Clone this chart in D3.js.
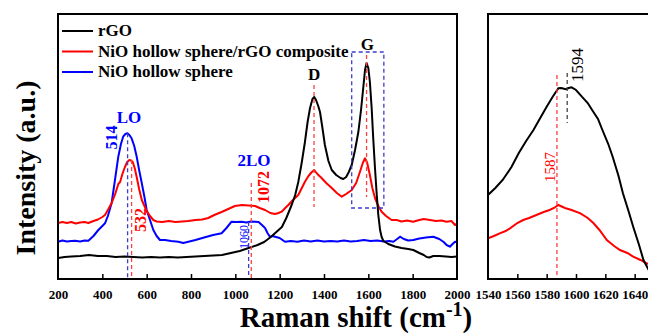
<!DOCTYPE html>
<html>
<head>
<meta charset="utf-8">
<script src="https://cdn.jsdelivr.net/npm/d3@7"></script>
<style>
  body { margin: 0; background: #fff; }
</style>
</head>
<body>
<div id="chart"></div>
<script>
// Raman spectra, intensity in arbitrary units (0 = bottom of the frame)
const rgoShift = [200,230,260,300,340,380,420,460,500,540,580,620,660,700,740,780,820,860,900,940,980,1020,1060,1100,1130,1160,1190,1210,1230,1254,1270,1284,1300,1314,1326,1337,1348,1356,1364,1374,1382,1393,1404,1420,1435,1455,1475,1487,1500,1512,1525,1540,1555,1567,1577,1585,1592,1600,1607,1615,1622,1630,1638,1645,1653,1660,1668,1690,1720,1750,1780,1803,1830,1850,1863,1875,1893,1920,1950,1975,2000];
const rgoValue = [21,22,22.5,23,24,23,23,22,22.5,22,21.5,22,21.5,22,21.5,22,22.5,23,23.5,24,26,28,31,34,37,42,48,52,61,74,84,97,117,137,157,171,180,182,179,173,167,151,134,118,109,104,101,100,102,107,114,129,147,169,191,209,216,211,197,171,141,111,84,64,49,42,38,35,32.5,31,30,29,26,24,22,21.5,23,23,22.5,22,22.5];

const compShift = [200,220,240,260,280,300,320,337,360,380,400,412,425,442,458,472,480,492,502,512,522,530,537,546,555,566,578,590,600,615,630,645,670,700,730,760,788,820,850,878,905,938,968,998,1030,1060,1089,1110,1134,1158,1179,1195,1209,1225,1239,1260,1284,1300,1314,1330,1345,1356,1370,1389,1410,1435,1458,1480,1500,1525,1545,1562,1575,1585,1595,1607,1618,1630,1645,1660,1680,1705,1728,1750,1775,1802,1830,1850,1878,1905,1930,1953,1975,1991,2000];
const compValue = [56,57,56,57,55.5,56.5,57,56,58,59.5,62,64,69,76,85,95,97,106,112,117,119,118.5,117,111,102,90,79,73,68,63,59,57.5,57,58,57,57.5,58,59,59.5,61,64,67,70,73,74,73.5,73,71,69,66,65,66,67.3,71,74,79,84,91,97.3,103,107,109,105,101,96,91,86,82.3,85,89,96,107,116,120.7,116,104,91,81,73,67.3,63,59,59,57.5,58.5,57.3,59,60,59,58,58.5,57.3,58,54,55];

const nioShift = [200,220,240,260,277,300,320,337,360,382,400,412,425,442,457,472,484,494,504,513,522,532,544,555,566,578,590,600,615,630,645,660,683,710,743,765,788,820,863,900,938,960,983,1005,1028,1050,1070,1089,1105,1120,1134,1145,1156,1168,1179,1200,1224,1250,1280,1310,1340,1370,1400,1430,1460,1490,1520,1550,1580,1610,1640,1670,1695,1713,1730,1743,1760,1780,1803,1830,1860,1893,1920,1940,1953,1968,1980,1991,2000];
const nioValue = [37.3,38.5,37.5,38,38.3,37.5,38.5,38.3,43,49,53,55.7,63,76,99,122.3,135,142.3,145,145.7,144,140.7,133,122.3,109,95.7,82,69,59,49,43,39,39,38,37.3,36,37.3,39,41.7,44,45.7,51,57.3,57,57.3,56.5,57.5,57.3,57,54,51,46,42.3,43,42.3,41,37.3,38,37.3,38.5,37.5,38.5,37.5,38,37.5,38.5,37.5,38,39,38,38.5,37.5,38,37.3,40,42.3,40,38.5,39,40.5,41.5,42.3,40,37,34,32.3,35,37.3,37];

// enlarged G band (right panel)
const zoomRgoShift = [1540,1545,1550,1556,1561,1566,1571,1576,1580,1584,1588,1590,1593,1595,1597,1600,1604,1608,1611,1615,1618,1622,1625,1629,1632,1636,1639,1643,1646,1652,1656];
const zoomRgoValue = [84,91,99,112,126,138,149,162,172.3,182,190.7,191,189.7,191,191.7,189,182.3,176,169,160,149,135,122.3,103,85.7,67,52.3,34,19,2.3,-6];
const zoomCompShift = [1540,1544,1548,1552,1555,1560,1564,1568,1573,1578,1582,1585,1588,1591,1593,1597,1603,1608,1612,1616,1621,1626,1630,1635,1639,1644,1648,1655];
const zoomCompValue = [40.7,43,45.7,48,50.7,56,59,61,64,67,69,71,74,72,70.7,69,65.7,61,55.7,49,39,33,29,26,22.3,19,15.7,13];

const seriesNames = ["rGO", "NiO hollow sphere/rGO composite", "NiO hollow sphere"];
const seriesColors = ["#000000", "#ff0000", "#0000ff"];

const mainTicks = [200, 400, 600, 800, 1000, 1200, 1400, 1600, 1800, 2000];
const zoomTicks = [1540, 1560, 1580, 1600, 1620, 1640];

const FONT = '"Liberation Serif", "Times New Roman", Times, "DejaVu Serif", serif';

const width = 648, height = 333;
const main = { left: 58, right: 457, top: 14, bottom: 279 };
const side = { left: 488, right: 664, top: 14, bottom: 279 };

const zipData = (xs, ys) => xs.map((x, i) => ({ x: x, y: ys[i] }));

const svg = d3
  .select("#chart")
  .append("svg")
  .attr("width", width)
  .attr("height", height)
  .attr("font-family", FONT);

const xMain = d3.scaleLinear().domain([200, 2000]).range([main.left, main.right]);
const yMain = d3.scaleLinear().domain([0, 265]).range([main.bottom, main.top]);
const xSide = d3.scaleLinear().domain([1540, 1660]).range([side.left, side.right]);
const ySide = d3.scaleLinear().domain([0, 265]).range([side.bottom, side.top]);

svg.append("clipPath").attr("id", "clipMain")
  .append("rect")
  .attr("x", main.left).attr("y", main.top)
  .attr("width", main.right - main.left).attr("height", main.bottom - main.top);
svg.append("clipPath").attr("id", "clipSide")
  .append("rect")
  .attr("x", side.left).attr("y", side.top)
  .attr("width", side.right - side.left).attr("height", side.bottom - side.top);

function dashLine(g, x, y0, y1, color) {
  g.append("line")
    .attr("x1", x).attr("x2", x)
    .attr("y1", y0).attr("y2", y1)
    .attr("stroke", color)
    .attr("stroke-width", 1.3)
    .attr("stroke-dasharray", "4,3");
}

function label(g, txt, x, y, color, size, weight, rotate) {
  const t = g.append("text")
    .attr("fill", color)
    .style("font-family", FONT)
    .style("font-size", size + "px")
    .style("font-weight", weight)
    .attr("text-anchor", "middle")
    .text(txt);
  if (rotate) {
    t.attr("dominant-baseline", "central")
      .attr("transform", `translate(${x},${y}) rotate(-90)`);
  } else {
    t.attr("x", x).attr("y", y);
  }
}

// ---------- main panel ----------
const mainPlot = svg.append("g").attr("clip-path", "url(#clipMain)");
const mainLine = d3.line().x((d) => xMain(d.x)).y((d) => yMain(d.y));

const mainSeries = [
  zipData(rgoShift, rgoValue),
  zipData(compShift, compValue),
  zipData(nioShift, nioValue),
];

// annotation dashes under the curves
const ann = svg.append("g");
dashLine(ann, xMain(514), yMain(145.7), main.bottom, "#3c3ccf");
dashLine(ann, xMain(532), yMain(119), main.bottom, "#ff4040");
dashLine(ann, xMain(1060), yMain(57), main.bottom, "#3c3ccf");
dashLine(ann, xMain(1072), yMain(96), main.bottom, "#ff4040");
dashLine(ann, xMain(1355), yMain(194), yMain(72), "#ff4040");
dashLine(ann, xMain(1592), yMain(224), yMain(82), "#ff4040");

// G band box
const gBox = { x0: 1525, x1: 1670, y0: 71, y1: 227 };
ann.append("rect")
  .attr("x", xMain(gBox.x0))
  .attr("y", yMain(gBox.y1))
  .attr("width", xMain(gBox.x1) - xMain(gBox.x0))
  .attr("height", yMain(gBox.y0) - yMain(gBox.y1))
  .attr("fill", "none")
  .attr("stroke", "#3c3ccf")
  .attr("stroke-width", 1.3)
  .attr("stroke-dasharray", "4,3");

[2, 1, 0].forEach(function (i) {
  mainPlot.append("path")
    .datum(mainSeries[i])
    .attr("d", mainLine)
    .attr("fill", "none")
    .attr("stroke", seriesColors[i])
    .attr("stroke-width", 2)
    .attr("stroke-linejoin", "round");
});

// frame + inward ticks
svg.append("rect")
  .attr("x", main.left).attr("y", main.top)
  .attr("width", main.right - main.left).attr("height", main.bottom - main.top)
  .attr("fill", "none").attr("stroke", "#000").attr("stroke-width", 2);

function styleAxis(axisG, skip) {
  axisG.attr("font-family", FONT);
  axisG.select(".domain").remove();
  axisG.selectAll(".tick line").attr("stroke-width", 1.5);
  axisG.selectAll(".tick")
    .filter((d) => skip.includes(d))
    .select("line").remove();
  axisG.selectAll("text")
    .style("font-family", FONT)
    .style("font-size", "13px")
    .style("font-weight", "bold")
    .attr("fill", "#000");
}

const mainAxis = svg.append("g")
  .attr("transform", `translate(0, ${main.bottom})`)
  .call(d3.axisBottom(xMain).tickValues(mainTicks).tickFormat(d3.format("d"))
    .tickSizeInner(-5).tickSizeOuter(0).tickPadding(11));
styleAxis(mainAxis, [200, 2000]);

// peak labels
label(svg, "LO", xMain(520), yMain(156), "#0000ff", 17, "bold", false);
label(svg, "514", xMain(442), yMain(141.5), "#0000ff", 16, "bold", true);
label(svg, "532", xMain(570), yMain(59), "#ff0000", 16, "bold", true);
label(svg, "2LO", xMain(1084), yMain(113), "#0000ff", 17, "bold", false);
label(svg, "1072", xMain(1129), yMain(92), "#ff0000", 16, "bold", true);
label(svg, "1060", xMain(1039), yMain(42), "#0000ff", 12, "normal", true);
label(svg, "D", xMain(1355), yMain(199), "#000", 17, "bold", false);
label(svg, "G", xMain(1596), yMain(229), "#000", 17, "bold", false);

// legend
const legend = svg.append("g").attr("transform", "translate(62, 31)");
seriesNames.forEach(function (name, i) {
  const row = legend.append("g").attr("transform", `translate(0, ${i * 20.5})`);
  row.append("line")
    .attr("x1", 0).attr("x2", 31)
    .attr("stroke", seriesColors[i]).attr("stroke-width", 2);
  row.append("text")
    .attr("x", 36).attr("y", 5)
    .style("font-family", FONT)
    .style("font-size", "17px")
    .style("font-weight", "bold")
    .attr("fill", "#000")
    .text(name);
});

// ---------- side panel (G band zoom) ----------
const sidePlot = svg.append("g").attr("clip-path", "url(#clipSide)");
const sideLine = d3.line().x((d) => xSide(d.x)).y((d) => ySide(d.y));

dashLine(svg, xSide(1587), ySide(204), side.bottom, "#ff4040");
dashLine(svg, xSide(1594), ySide(206), ySide(156), "#444");

sidePlot.append("path")
  .datum(zipData(zoomCompShift, zoomCompValue))
  .attr("d", sideLine)
  .attr("fill", "none").attr("stroke", "#ff0000").attr("stroke-width", 2);
sidePlot.append("path")
  .datum(zipData(zoomRgoShift, zoomRgoValue))
  .attr("d", sideLine)
  .attr("fill", "none").attr("stroke", "#000").attr("stroke-width", 2);

svg.append("rect")
  .attr("x", side.left).attr("y", side.top)
  .attr("width", side.right - side.left).attr("height", side.bottom - side.top)
  .attr("fill", "none").attr("stroke", "#000").attr("stroke-width", 2);

const sideAxis = svg.append("g")
  .attr("transform", `translate(0, ${side.bottom})`)
  .call(d3.axisBottom(xSide).tickValues(zoomTicks).tickFormat(d3.format("d"))
    .tickSizeInner(-5).tickSizeOuter(0).tickPadding(11));
styleAxis(sideAxis, [1540]);

label(svg, "1587", xSide(1582), ySide(112), "#ff0000", 15, "normal", true);
label(svg, "1594", xSide(1601), ySide(214), "#000", 17, "normal", true);

// ---------- axis titles ----------
const xTitle = svg.append("text")
  .attr("x", 356).attr("y", 327)
  .attr("text-anchor", "middle")
  .style("font-family", FONT)
  .style("font-size", "29px")
  .style("font-weight", "bold")
  .attr("fill", "#000");
xTitle.append("tspan").text("Raman shift (cm");
xTitle.append("tspan").attr("dy", -11).style("font-size", "20px").text("-1");
xTitle.append("tspan").attr("dy", 11).text(")");

svg.append("text")
  .attr("transform", "translate(25, 168) rotate(-90)")
  .attr("text-anchor", "middle")
  .attr("dominant-baseline", "central")
  .style("font-family", FONT)
  .style("font-size", "28px")
  .style("font-weight", "bold")
  .attr("fill", "#000")
  .text("Intensity (a.u.)");
</script>
</body>
</html>
